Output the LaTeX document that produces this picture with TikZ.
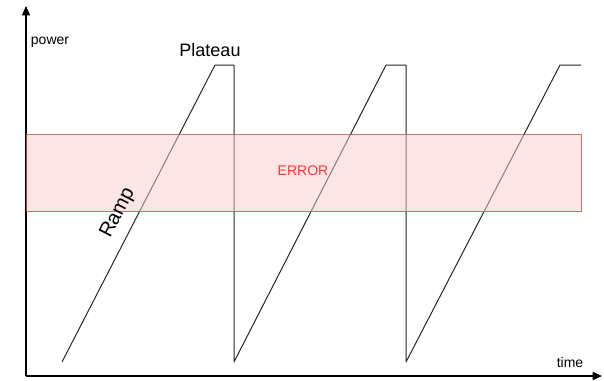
\documentclass[tikz,border=0pt]{standalone}
\usepackage{fontspec}
\setmainfont{Liberation Sans}
\usetikzlibrary{arrows.meta}
\definecolor{errfill}{HTML}{F8CECC}
\definecolor{errline}{HTML}{B85450}
\definecolor{errtext}{HTML}{FF3333}
\begin{document}
\begin{tikzpicture}[x=0.75pt,y=-0.75pt,
  wave/.style={draw=black!85,line width=0.75pt,line join=round},
  axis/.style={draw=black,line width=1.1pt,-{Triangle[length=7pt,width=6pt]}},
  lbl/.style={font=\fontsize{10.5pt}{12pt}\selectfont,inner sep=0pt},
  big/.style={font=\fontsize{13.5pt}{16pt}\selectfont,inner sep=0pt}]
\useasboundingbox (0,0) rectangle (604,380);
\coordinate (o) at (26,376);
\coordinate (ytip) at (26,6);
\coordinate (xtip) at (602,376);
\draw[wave] (62,362) -- (215,65) -- (234,65) -- (234,362) -- (386,65) -- (406,65) -- (406,362) -- (560,65) -- (581,65);
\draw[axis] (o) -- (ytip);
\draw[axis] (o) -- (xtip);
\node[draw=errline,fill=errfill,fill opacity=0.5,draw opacity=0.8,line width=0.75pt,minimum width=555*0.75pt,minimum height=77*0.75pt,inner sep=0pt,anchor=north west] (err) at (26,134) {};
\node[lbl,text=errtext] (errlbl) at (303,171) {ERROR};
\node[lbl] (power) at (50,42) {power};
\node[lbl] (time) at (570,362) {time};
\node[big] (plateau) at (210,50) {Plateau};
\node[big,rotate=62.7,font=\fontsize{15pt}{18pt}\selectfont] (ramp) at (118,213) {Ramp};
\end{tikzpicture}
\end{document}
